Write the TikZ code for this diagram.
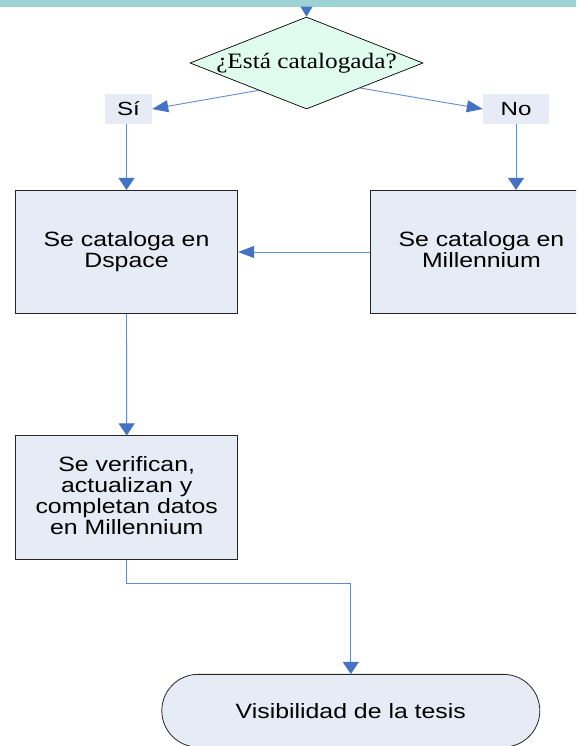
\documentclass[tikz,border=0pt]{standalone}
\usepackage{fontspec}
\usetikzlibrary{shapes.geometric,shapes.misc,arrows.meta,calc}
\newfontfamily\sfwide[FakeStretch=1.2]{Liberation Sans}
\newfontfamily\sfwider[FakeStretch=1.27]{Liberation Sans}
\newfontfamily\rmwide[FakeStretch=1.15]{Liberation Serif}
\definecolor{bandteal}{RGB}{158,211,214}
\definecolor{mint}{RGB}{224,252,239}
\definecolor{boxfill}{RGB}{230,235,246}
\definecolor{linkblue}{RGB}{100,140,205}
\definecolor{tipblue}{RGB}{68,114,196}
\tikzset{
  procbox/.style={draw=black!85,line width=0.8pt,fill=boxfill,rectangle,inner sep=0pt,
    align=center,font=\sfwide\fontsize{20.7}{20.9}\selectfont},
  answer/.style={fill=boxfill,rectangle,inner sep=0pt,font=\sfwider\fontsize{19}{20}\selectfont},
  decision/.style={draw=black,line width=0.7pt,fill=mint,diamond,inner sep=0pt,
    minimum width=233pt,minimum height=92pt},
  terminal/.style={draw=black!85,line width=0.8pt,fill=boxfill,rounded rectangle,inner sep=0pt,
    minimum width=378pt,minimum height=72.7pt,font=\sfwide\fontsize{20.7}{20.7}\selectfont},
  link/.style={draw=linkblue,line width=0.9pt},
  varr/.style={link,-{Triangle[length=12pt,width=16pt,fill=tipblue,color=tipblue]}},
  harr/.style={link,-{Triangle[length=16pt,width=12pt,fill=tipblue,color=tipblue]}},
  toparr/.style={link,-{Triangle[length=10pt,width=12pt,fill=tipblue,color=tipblue]}}
}
\begin{document}
\begin{tikzpicture}[x=1pt,y=-1pt]
\useasboundingbox (0,0) rectangle (576,746);
\begin{scope}
\clip (0,0) rectangle (576,746);
\fill[bandteal] (0,0) rectangle (576,7);
\coordinate (top) at (306.5,7);
\node[decision] (d) at (306.5,63) {};
\node[font=\rmwide\fontsize{22}{24}\selectfont,inner sep=0pt] (dt) at (d.center) {¿Está catalogada?};
\node[answer,minimum width=47pt,minimum height=30pt] (si) at (128.5,109) {Sí};
\node[answer,minimum width=66pt,minimum height=30pt] (no) at (516,109) {No};
\node[procbox,minimum width=222.4pt,minimum height=123.4pt] (dsp) at (126.5,252) {Se cataloga en\\Dspace};
\node[procbox,minimum width=221.4pt,minimum height=123.4pt] (mil) at (481.4,252) {Se cataloga en\\Millennium\vphantom{p}};
\node[procbox,minimum width=222pt,minimum height=123.3pt] (ver) at (126.7,497.5) {Se verifican,\\actualizan y\\completan datos\\en Millennium\vphantom{p}};
\node[terminal] (vis) at (350.8,710.7) {Visibilidad de la tesis};
\draw[toparr] (top) -- (d.north);
\draw[harr] ($(d.south)!0.41!(d.west)$) -- (si.east);
\draw[harr] ($(d.south)!0.46!(d.east)$) -- (no.west);
\draw[varr] (si.south -| dsp.north) -- (dsp.north);
\draw[varr] (no.south) -- (no.south |- mil.north);
\draw[harr] (mil.west) -- (dsp.east);
\draw[varr] (dsp.south) -- (ver.north);
\draw[varr] (ver.south) -- ++(0,23.4) -| (vis.north);
\end{scope}
\end{tikzpicture}
\end{document}
